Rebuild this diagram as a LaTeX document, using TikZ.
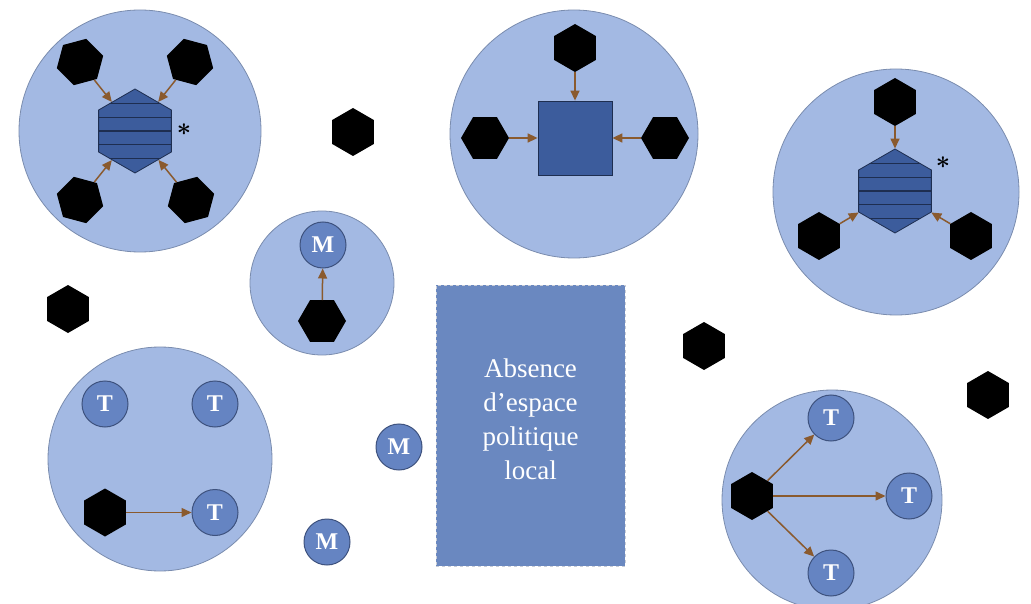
\documentclass[tikz,border=0pt]{standalone}
\usepackage{fontspec}
\setmainfont{Liberation Serif}
\usetikzlibrary{arrows.meta,shapes.geometric}
\definecolor{ink}{HTML}{1E2E50}
\definecolor{sky}{HTML}{A3B9E3}
\definecolor{skyedge}{HTML}{7A8CAE}
\definecolor{mid}{HTML}{6584C2}
\definecolor{midedge}{HTML}{3E527E}
\definecolor{deep}{HTML}{3C5C9C}
\definecolor{rust}{HTML}{8A5A2E}
\definecolor{slab}{HTML}{6A88C0}
\definecolor{dash}{HTML}{C9CDD6}

\tikzset{
  zone/.style={circle,fill=sky,draw=skyedge,line width=.8pt,
    inner sep=0pt,minimum size=#1},
  actor/.style={regular polygon,regular polygon sides=6,fill=black,
    inner sep=0pt,minimum size=48pt,shape border rotate=#1},
  actor/.default=30,
  hive/.style={regular polygon,regular polygon sides=6,
    shape border rotate=30,inner sep=0pt,minimum size=84pt,
    fill=deep,draw=ink,line width=.8pt,
    path picture={\foreach \k in {-2,...,2}
      \draw[ink,line width=1.3pt]
        ([yshift=\k*13.8pt]path picture bounding box.west)
        -- ([yshift=\k*13.8pt]path picture bounding box.east);}},
  agent/.style={circle,fill=mid,draw=midedge,line width=1pt,
    inner sep=0pt,minimum size=46pt,text=white,
    font=\bfseries\fontsize{24}{24}\selectfont},
  link/.style={draw=rust,line width=1.5pt,
    -{Triangle[length=10pt,width=9pt]}},
  star/.style={font=\boldmath\fontsize{40}{40}\selectfont,inner sep=0pt}
}

\begin{document}
\begin{tikzpicture}[x=1pt,y=-1pt]
  \useasboundingbox (0,0) rectangle (1031,604);

  % Circles
  \node[zone=242pt] (zA) at (140,131) {};
  \node[zone=248pt] (zB) at (574,134) {};
  \node[zone=246pt] (zC) at (896,192) {};
  \node[zone=144pt] (zD) at (322,283) {};
  \node[zone=224pt] (zE) at (160,459) {};
  \node[zone=220pt] (zF) at (832,500) {};

  % Four around a striped hexagon
  \node[hive] (hA) at (135,131) {};
  \node[actor=15] (a1) at (80,62) {};
  \node[actor=45] (a2) at (190,62) {};
  \node[actor=45] (a3) at (80,200) {};
  \node[actor=15] (a4) at (191,200) {};
  \node[star] (sA) at (184,130) {$\ast$};
  \foreach \n in {a1,a2,a3,a4}
    \draw[link] (\n) -- (hA);

  % Three around a square
  \node[rectangle,fill=deep,draw=ink,line width=.8pt,
    minimum size=74pt] (qB) at (575,138) {};
  \node[actor] (b1) at (575,48) {};
  \node[actor=0] (b2) at (485,138) {};
  \node[actor=0] (b3) at (665,138) {};
  \foreach \n in {b1,b2,b3}
    \draw[link] (\n) -- (qB);

  % Three around a striped hexagon
  \node[hive] (hC) at (895,191) {};
  \node[actor] (c1) at (895,102) {};
  \node[actor] (c2) at (819,236) {};
  \node[actor] (c3) at (971,236) {};
  \node[star] (sC) at (943,163) {$\ast$};
  \foreach \n in {c1,c2,c3}
    \draw[link] (\n) -- (hC);

  % Small circle
  \node[agent] (mD) at (323,245) {M};
  \node[actor=0] (d1) at (322,321) {};
  \draw[link] (d1) -- (mD);

  % Bottom left
  \node[agent] (t1) at (105,404) {T};
  \node[agent] (t2) at (215,404) {T};
  \node[agent] (t3) at (215,512.5) {T};
  \node[actor] (e1) at (105,512.5) {};
  \draw[link] (e1) -- (t3);

  % Bottom right
  \node[agent] (u1) at (831,418) {T};
  \node[agent] (u2) at (909,496) {T};
  \node[agent] (u3) at (831,573) {T};
  \node[actor] (f1) at (752,496) {};
  \foreach \n in {u1,u2,u3}
    \draw[link] (f1) -- (\n);

  % Outside the circles
  \node[actor] (g1) at (353,132) {};
  \node[actor] (g2) at (68,309) {};
  \node[actor] (g3) at (704,346) {};
  \node[actor] (g4) at (988,395) {};
  \node[agent] (m1) at (399,447) {M};
  \node[agent] (m2) at (327,542) {M};

  \node[rectangle,fill=slab,draw=dash,dashed,line width=1pt,
    minimum width=189pt,minimum height=281pt] (void) at (530.5,425.5) {};
  \node[text=white,align=center,font=\fontsize{27}{34}\selectfont]
    (voidtext) at (530.5,419) {Absence\\d’espace\\politique\\local};
\end{tikzpicture}
\end{document}
